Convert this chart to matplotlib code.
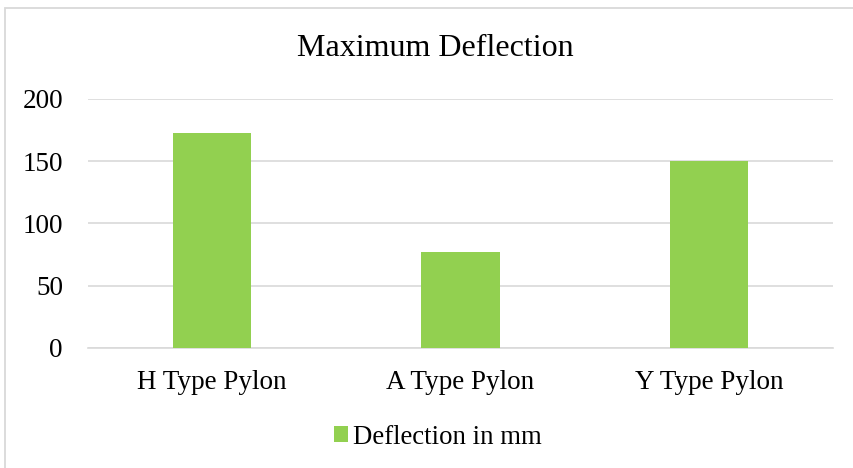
import matplotlib
matplotlib.use("Agg")
import matplotlib.pyplot as plt
from matplotlib.patches import Rectangle

categories = ["H Type Pylon", "A Type Pylon", "Y Type Pylon"]
values = [172.3, 76.8, 149.8]
series_name = "Deflection in mm"
yticks = [0, 50, 100, 150, 200]

plt.rcParams['font.family'] = ['Liberation Serif', 'DejaVu Serif']

W, H = 854, 468
fig = plt.figure(figsize=(W/100, H/100), dpi=100)
fig.patch.set_facecolor('white')
fig.add_artist(Rectangle((5.5/W, -0.1), 1.2, 1.1-8.5/H, transform=fig.transFigure,
                         fill=False, edgecolor='#d9d9d9', linewidth=1.3))

x0, x1 = 88, 833
y0, y1 = 347.7, 99
ax = fig.add_axes([x0/W, 1-y0/H, (x1-x0)/W, (y0-y1)/H])
pos = range(len(categories))
ax.bar(pos, values, width=0.315, color='#92d050', label=series_name, zorder=3)
ax.set_xlim(-0.5, 2.5)
ax.set_ylim(0, 200)
ax.set_yticks(yticks)
ax.set_xticks(list(pos))
ax.set_xticklabels(categories)
ax.grid(axis='y', color='#d9d9d9', linewidth=1.2, zorder=0)
for s in ['top', 'right', 'left']:
    ax.spines[s].set_visible(False)
ax.spines['bottom'].set_color('#d9d9d9')
ax.spines['bottom'].set_linewidth(1.2)
ax.tick_params(axis='both', length=0, labelsize=19.5, colors='black')
ax.tick_params(axis='y', pad=18)
ax.tick_params(axis='x', pad=16)

fig.text(435.5/W, 1-48/H, "Maximum Deflection", ha='center', va='center', fontsize=23)
fig.legend(loc='center', bbox_to_anchor=(437.5/W, 1-437/H), frameon=False, fontsize=19.3,
           handlelength=0.52, handleheight=0.52, handletextpad=0.19)

fig.savefig("out.png", dpi=100)
